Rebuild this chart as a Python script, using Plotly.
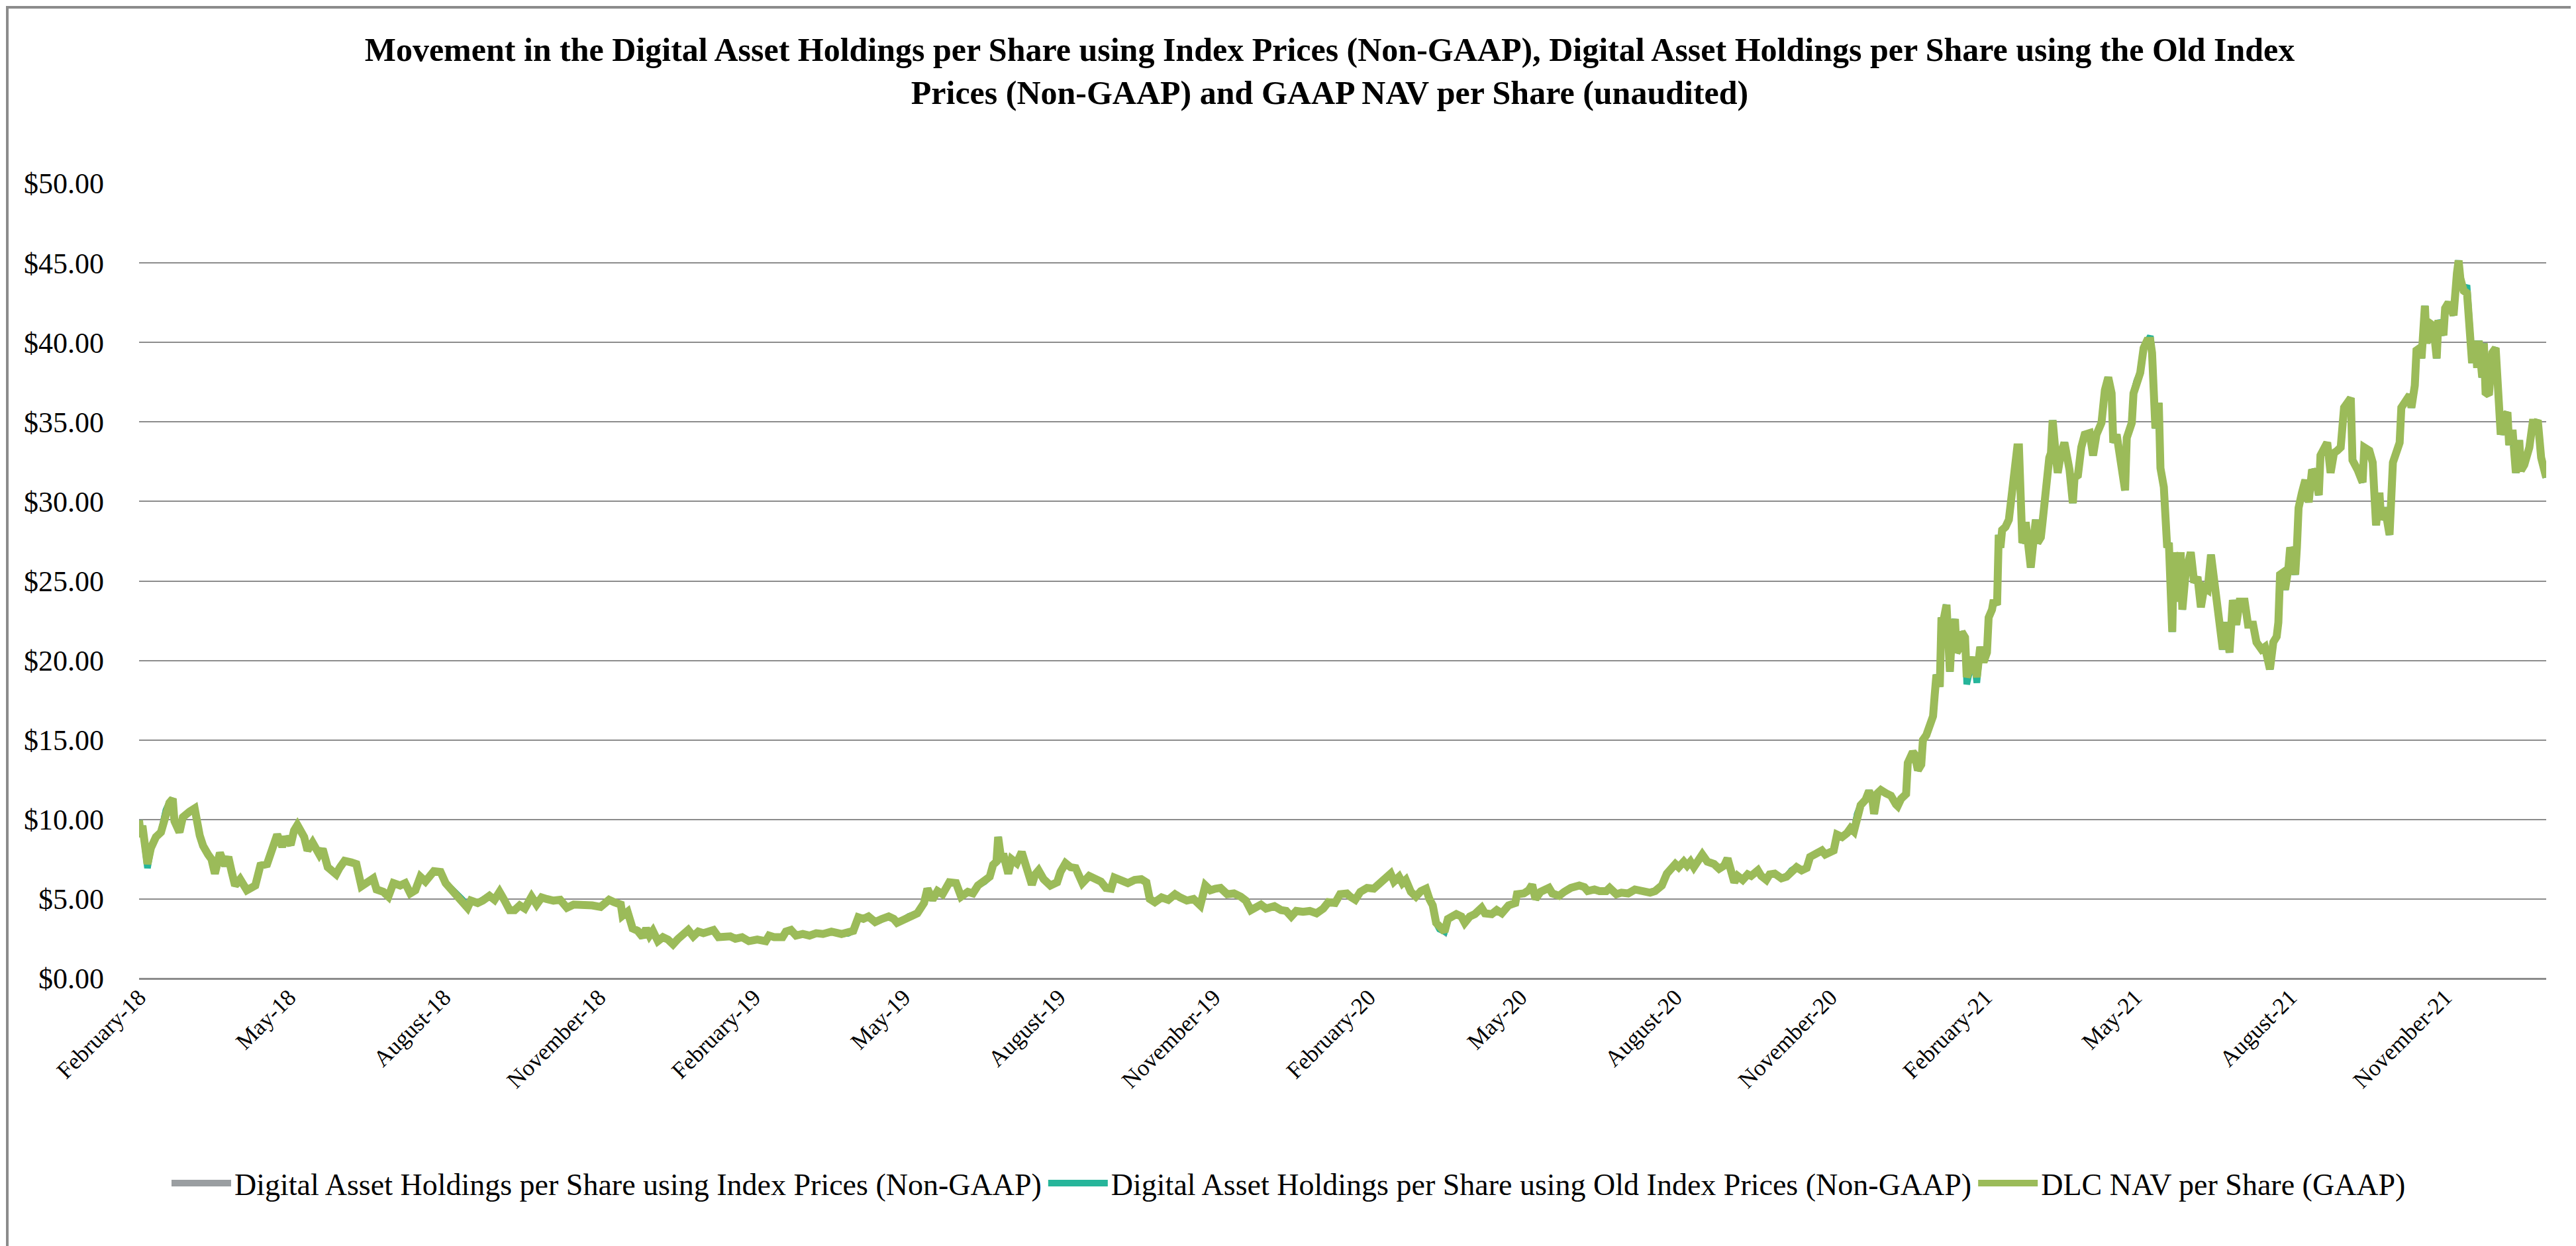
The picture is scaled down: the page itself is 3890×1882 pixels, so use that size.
import plotly.graph_objects as go

# ---------------- data ----------------
dates_2018 = [
    "2018-02-01", "2018-02-02", "2018-02-03", "2018-02-06", "2018-02-08", "2018-02-11", "2018-02-14",
    "2018-02-17", "2018-02-19", "2018-02-21", "2018-02-22", "2018-02-25", "2018-02-27", "2018-03-03",
    "2018-03-06", "2018-03-09", "2018-03-11", "2018-03-14", "2018-03-16", "2018-03-18", "2018-03-21",
    "2018-03-24", "2018-03-26", "2018-03-28", "2018-03-30", "2018-04-02", "2018-04-06", "2018-04-11",
    "2018-04-14", "2018-04-18", "2018-04-21", "2018-04-24", "2018-04-27", "2018-04-29", "2018-05-02",
    "2018-05-04", "2018-05-06", "2018-05-10", "2018-05-12", "2018-05-15", "2018-05-19", "2018-05-21",
    "2018-05-24", "2018-05-27", "2018-05-29", "2018-05-31", "2018-06-03", "2018-06-07", "2018-06-10",
    "2018-06-13", "2018-06-17", "2018-06-20", "2018-06-22", "2018-06-26", "2018-06-29", "2018-07-02",
    "2018-07-06", "2018-07-09", "2018-07-12", "2018-07-15", "2018-07-18", "2018-07-21", "2018-07-26",
    "2018-07-30", "2018-08-02", "2018-08-06", "2018-08-09", "2018-08-12", "2018-08-15", "2018-08-17",
    "2018-08-21", "2018-08-24", "2018-08-28", "2018-08-31", "2018-09-03", "2018-09-06", "2018-09-09",
    "2018-09-12", "2018-09-15", "2018-09-18", "2018-09-22", "2018-09-25", "2018-09-28", "2018-10-01",
    "2018-10-05", "2018-10-09", "2018-10-13", "2018-10-17", "2018-10-22", "2018-10-28", "2018-11-02",
    "2018-11-07", "2018-11-10", "2018-11-14", "2018-11-15", "2018-11-18", "2018-11-21", "2018-11-24",
    "2018-11-27", "2018-11-29", "2018-12-01", "2018-12-03", "2018-12-06", "2018-12-09", "2018-12-12",
    "2018-12-15", "2018-12-18", "2018-12-21", "2018-12-24", "2018-12-27", "2018-12-30",
]
nav_2018 = [
    9.95, 8.9, 9.6, 7.2, 8.2, 8.9, 9.2,
    10.6, 11.05, 11.3, 9.9, 9.2, 10.15, 10.5,
    10.7, 9.0, 8.35, 7.8, 7.5, 6.6, 7.9,
    7.1, 7.65, 6.7, 5.85, 6.25, 5.55, 5.85,
    7.1, 7.2, 8.2, 9.05, 8.3, 8.9, 8.4,
    9.3, 9.65, 8.9, 8.05, 8.55, 7.8, 8.15,
    7.0, 6.8, 6.55, 6.95, 7.4, 7.3, 7.2,
    5.8, 6.1, 6.3, 5.6, 5.45, 5.15, 6.0,
    5.85, 6.0, 5.35, 5.55, 6.4, 6.1, 6.75,
    6.7, 6.0, 5.55, 5.15, 4.95, 4.45, 4.9,
    4.75, 4.9, 5.2, 4.95, 5.45, 4.9, 4.3,
    4.3, 4.6, 4.4, 5.15, 4.65, 5.1, 5.0,
    4.9, 4.95, 4.45, 4.65, 4.65, 4.6, 4.5,
    4.95, 4.8, 4.65, 3.95, 4.2, 3.15, 3.0,
    2.6, 3.15, 2.7, 3.0, 2.35, 2.6, 2.45,
    2.15, 2.5, 2.85, 3.05, 2.65, 2.95,
]

dates_2019 = [
    "2019-01-02", "2019-01-05", "2019-01-08", "2019-01-11", "2019-01-14", "2019-01-18", "2019-01-21",
    "2019-01-25", "2019-01-29", "2019-02-03", "2019-02-08", "2019-02-10", "2019-02-13", "2019-02-18",
    "2019-02-20", "2019-02-23", "2019-02-26", "2019-03-02", "2019-03-06", "2019-03-10", "2019-03-14",
    "2019-03-19", "2019-03-25", "2019-03-29", "2019-04-01", "2019-04-04", "2019-04-07", "2019-04-10",
    "2019-04-14", "2019-04-18", "2019-04-22", "2019-04-25", "2019-04-27", "2019-05-01", "2019-05-04",
    "2019-05-09", "2019-05-13", "2019-05-15", "2019-05-18", "2019-05-21", "2019-05-24", "2019-05-28",
    "2019-06-01", "2019-06-04", "2019-06-08", "2019-06-11", "2019-06-14", "2019-06-18", "2019-06-21",
    "2019-06-23", "2019-06-25", "2019-06-26", "2019-06-28", "2019-06-29", "2019-07-02", "2019-07-04",
    "2019-07-07", "2019-07-10", "2019-07-12", "2019-07-14", "2019-07-16", "2019-07-18", "2019-07-20",
    "2019-07-23", "2019-07-27", "2019-07-31", "2019-08-02", "2019-08-05", "2019-08-08", "2019-08-11",
    "2019-08-15", "2019-08-19", "2019-08-23", "2019-08-26", "2019-08-29", "2019-09-01", "2019-09-03",
    "2019-09-07", "2019-09-11", "2019-09-15", "2019-09-19", "2019-09-22", "2019-09-24", "2019-09-27",
    "2019-10-01", "2019-10-05", "2019-10-09", "2019-10-12", "2019-10-16", "2019-10-20", "2019-10-24",
    "2019-10-27", "2019-10-30", "2019-11-02", "2019-11-05", "2019-11-09", "2019-11-13", "2019-11-17",
    "2019-11-20", "2019-11-23", "2019-11-26", "2019-11-29", "2019-12-02", "2019-12-07", "2019-12-11",
    "2019-12-14", "2019-12-17", "2019-12-20", "2019-12-24", "2019-12-28",
]
nav_2019 = [
    2.85, 3.0, 3.05, 2.6, 2.6, 2.65, 2.5,
    2.6, 2.35, 2.45, 2.35, 2.7, 2.6, 2.6,
    2.95, 3.05, 2.7, 2.8, 2.7, 2.85, 2.8,
    2.95, 2.8, 2.85, 3.0, 3.85, 3.75, 3.9,
    3.55, 3.75, 3.9, 3.75, 3.5, 3.7, 3.9,
    4.1, 4.75, 5.65, 4.95, 5.5, 5.3, 6.05,
    6.0, 5.15, 5.45, 5.35, 5.85, 6.1, 6.4,
    7.15, 7.35, 8.9, 7.35, 7.85, 6.6, 7.5,
    7.25, 7.95, 7.25, 6.7, 5.9, 6.55, 6.8,
    6.25, 5.85, 6.05, 6.7, 7.25, 7.0, 6.95,
    6.0, 6.45, 6.2, 6.1, 5.7, 5.65, 6.35,
    6.2, 6.0, 6.2, 6.25, 6.05, 5.0, 4.8,
    5.1, 4.95, 5.3, 5.1, 4.9, 5.0, 4.6,
    5.85, 5.55, 5.65, 5.7, 5.3, 5.35, 5.15,
    4.9, 4.3, 4.45, 4.65, 4.4, 4.55, 4.3,
    4.25, 3.9, 4.25, 4.2, 4.25,
]

dates_2020 = [
    "2020-01-01", "2020-01-05", "2020-01-08", "2020-01-12", "2020-01-15", "2020-01-19", "2020-01-21",
    "2020-01-24", "2020-01-27", "2020-01-31", "2020-02-04", "2020-02-08", "2020-02-11", "2020-02-14",
    "2020-02-16", "2020-02-19", "2020-02-21", "2020-02-23", "2020-02-26", "2020-02-29", "2020-03-03",
    "2020-03-06", "2020-03-08", "2020-03-10", "2020-03-12", "2020-03-14", "2020-03-17", "2020-03-19",
    "2020-03-21", "2020-03-24", "2020-03-27", "2020-03-29", "2020-04-01", "2020-04-04", "2020-04-08",
    "2020-04-10", "2020-04-14", "2020-04-17", "2020-04-20", "2020-04-24", "2020-04-28", "2020-04-29",
    "2020-05-03", "2020-05-06", "2020-05-08", "2020-05-10", "2020-05-13", "2020-05-18", "2020-05-20",
    "2020-05-24", "2020-05-27", "2020-05-31", "2020-06-05", "2020-06-08", "2020-06-10", "2020-06-14",
    "2020-06-17", "2020-06-21", "2020-06-23", "2020-06-27", "2020-06-30", "2020-07-04", "2020-07-08",
    "2020-07-12", "2020-07-17", "2020-07-20", "2020-07-24", "2020-07-27", "2020-07-29", "2020-08-01",
    "2020-08-03", "2020-08-06", "2020-08-08", "2020-08-10", "2020-08-12", "2020-08-15", "2020-08-17",
    "2020-08-20", "2020-08-24", "2020-08-27", "2020-08-30", "2020-09-01", "2020-09-03", "2020-09-05",
    "2020-09-07", "2020-09-10", "2020-09-13", "2020-09-15", "2020-09-19", "2020-09-21", "2020-09-24",
    "2020-09-26", "2020-09-29", "2020-10-03", "2020-10-06", "2020-10-09", "2020-10-12", "2020-10-15",
    "2020-10-18", "2020-10-20", "2020-10-24", "2020-10-27", "2020-10-29", "2020-11-01", "2020-11-03",
    "2020-11-05", "2020-11-08", "2020-11-11", "2020-11-13", "2020-11-15", "2020-11-17", "2020-11-19",
    "2020-11-22", "2020-11-24", "2020-11-26", "2020-11-27", "2020-11-29", "2020-12-01", "2020-12-04",
    "2020-12-07", "2020-12-10", "2020-12-11", "2020-12-13", "2020-12-16", "2020-12-17", "2020-12-18",
    "2020-12-20", "2020-12-21", "2020-12-23", "2020-12-25", "2020-12-26", "2020-12-28", "2020-12-30",
]
nav_2020 = [
    4.1, 4.4, 4.8, 4.75, 5.3, 5.35, 5.15,
    4.95, 5.45, 5.7, 5.65, 6.05, 6.4, 6.6,
    6.1, 6.4, 6.0, 6.2, 5.45, 5.15, 5.5,
    5.65, 5.0, 4.6, 3.5, 3.2, 2.95, 3.75,
    3.85, 4.05, 3.9, 3.5, 3.9, 4.05, 4.45,
    4.1, 4.05, 4.3, 4.1, 4.6, 4.75, 5.3,
    5.35, 5.55, 5.9, 5.0, 5.45, 5.7, 5.35,
    5.2, 5.45, 5.7, 5.85, 5.75, 5.5, 5.6,
    5.5, 5.5, 5.7, 5.3, 5.4, 5.35, 5.6,
    5.55, 5.4, 5.5, 5.85, 6.6, 6.8, 7.2,
    7.0, 7.35, 7.1, 7.35, 7.0, 7.5, 7.8,
    7.35, 7.2, 6.9, 7.1, 7.55, 6.65, 6.05,
    6.45, 6.2, 6.55, 6.45, 6.8, 6.45, 6.2,
    6.55, 6.6, 6.3, 6.4, 6.8, 7.0, 6.8,
    6.95, 7.65, 7.9, 8.05, 7.8, 8.0, 8.05,
    9.05, 8.9, 9.15, 9.45, 9.25, 10.35, 10.9,
    11.25, 11.8, 11.25, 10.35, 11.65, 11.85, 11.65,
    11.5, 10.95, 10.85, 11.3, 11.6, 13.55, 13.75,
    14.25, 14.1, 13.1, 13.45, 15.0, 15.3, 16.1,
]

dates_2021 = [
    "2021-01-01", "2021-01-02", "2021-01-03", "2021-01-05", "2021-01-06", "2021-01-07", "2021-01-09",
    "2021-01-11", "2021-01-12", "2021-01-14", "2021-01-15", "2021-01-17", "2021-01-18", "2021-01-20",
    "2021-01-21", "2021-01-23", "2021-01-25", "2021-01-27", "2021-01-29", "2021-01-31", "2021-02-02",
    "2021-02-03", "2021-02-05", "2021-02-06", "2021-02-08", "2021-02-09", "2021-02-10", "2021-02-11",
    "2021-02-13", "2021-02-15", "2021-02-17", "2021-02-18", "2021-02-20", "2021-02-21", "2021-02-23",
    "2021-02-24", "2021-02-25", "2021-02-27", "2021-02-28", "2021-03-02", "2021-03-03", "2021-03-04",
    "2021-03-06", "2021-03-07", "2021-03-09", "2021-03-11", "2021-03-12", "2021-03-13", "2021-03-15",
    "2021-03-16", "2021-03-18", "2021-03-20", "2021-03-23", "2021-03-25", "2021-03-26", "2021-03-28",
    "2021-03-30", "2021-04-01", "2021-04-04", "2021-04-06", "2021-04-08", "2021-04-11", "2021-04-13",
    "2021-04-15", "2021-04-17", "2021-04-18", "2021-04-20", "2021-04-23", "2021-04-25", "2021-04-26",
    "2021-04-29", "2021-04-30", "2021-05-02", "2021-05-04", "2021-05-06", "2021-05-08", "2021-05-10",
    "2021-05-11", "2021-05-13", "2021-05-15", "2021-05-16", "2021-05-18", "2021-05-20", "2021-05-21",
    "2021-05-23", "2021-05-24", "2021-05-26", "2021-05-28", "2021-05-29", "2021-05-31", "2021-06-03",
    "2021-06-05", "2021-06-07", "2021-06-09", "2021-06-11", "2021-06-13", "2021-06-15", "2021-06-17",
    "2021-06-19", "2021-06-22", "2021-06-24", "2021-06-26", "2021-06-28", "2021-06-30", "2021-07-02",
    "2021-07-05", "2021-07-07", "2021-07-10", "2021-07-12", "2021-07-15", "2021-07-17", "2021-07-19",
    "2021-07-20", "2021-07-22", "2021-07-24", "2021-07-25", "2021-07-26", "2021-07-28", "2021-07-29",
    "2021-07-31", "2021-08-01", "2021-08-02", "2021-08-04", "2021-08-05", "2021-08-06", "2021-08-08",
    "2021-08-10", "2021-08-12", "2021-08-14", "2021-08-16", "2021-08-18", "2021-08-19", "2021-08-21",
    "2021-08-23", "2021-08-25", "2021-08-27", "2021-08-29", "2021-08-31", "2021-09-02", "2021-09-04",
    "2021-09-06", "2021-09-07", "2021-09-08", "2021-09-10", "2021-09-13", "2021-09-14", "2021-09-17",
    "2021-09-19", "2021-09-21", "2021-09-23", "2021-09-24", "2021-09-26", "2021-09-27", "2021-09-29",
    "2021-10-01", "2021-10-03", "2021-10-05", "2021-10-06", "2021-10-08", "2021-10-11", "2021-10-12",
    "2021-10-14", "2021-10-15", "2021-10-17", "2021-10-18", "2021-10-20", "2021-10-21", "2021-10-23",
    "2021-10-25", "2021-10-27", "2021-10-28", "2021-10-30", "2021-10-31", "2021-11-01", "2021-11-03",
    "2021-11-05", "2021-11-06", "2021-11-08", "2021-11-09", "2021-11-10", "2021-11-12", "2021-11-14",
    "2021-11-16", "2021-11-17", "2021-11-19", "2021-11-20", "2021-11-21", "2021-11-23", "2021-11-24",
    "2021-11-25", "2021-11-27", "2021-11-28", "2021-11-29", "2021-12-01", "2021-12-03", "2021-12-04",
    "2021-12-06", "2021-12-08", "2021-12-09", "2021-12-11", "2021-12-13", "2021-12-15", "2021-12-16",
    "2021-12-18", "2021-12-21", "2021-12-23", "2021-12-25", "2021-12-26", "2021-12-28", "2021-12-30",
    "2021-12-31",
]
nav_2021 = [
    16.5, 17.85, 19.1, 18.35, 22.7, 22.4, 23.5,
    19.3, 21.3, 22.6, 20.5, 20.85, 21.8, 21.45,
    18.95, 19.45, 20.2, 18.95, 20.85, 19.9, 20.5,
    22.7, 23.2, 23.8, 23.5, 27.9, 27.1, 28.2,
    28.4, 28.85, 30.7, 32.3, 33.4, 33.4, 27.4,
    27.6, 28.7, 26.8, 25.85, 27.9, 28.85, 27.4,
    27.75, 28.7, 31.2, 32.75, 33.05, 35.1, 32.75,
    31.8, 33.05, 33.7, 32.0, 29.9, 31.5, 31.65,
    33.4, 34.2, 34.3, 32.9, 34.2, 34.95, 37.0,
    37.8, 36.8, 33.7, 34.2, 32.45, 30.7, 34.0,
    34.95, 36.8, 37.6, 38.1, 39.65, 40.1, 40.1,
    39.35, 34.6, 36.2, 32.1, 30.9, 27.1, 27.4,
    21.8, 26.8, 23.7, 26.8, 23.2, 25.55, 26.8,
    24.9, 25.25, 23.35, 24.6, 24.45, 26.65, 24.9,
    23.35, 20.7, 22.4, 20.5, 23.8, 22.25, 23.7,
    23.7, 22.25, 22.25, 21.15, 20.7, 20.85, 19.9,
    19.45, 21.15, 21.5, 22.4, 25.4, 25.55, 24.45,
    25.85, 27.1, 26.8, 25.4, 27.1, 29.6, 30.55,
    31.35, 29.95, 32.0, 31.65, 30.4, 32.9, 33.2,
    33.7, 31.8, 33.05, 33.2, 33.4, 35.9, 36.2,
    36.5, 32.6, 32.45, 32.0, 31.2, 33.4, 33.2,
    32.45, 28.5, 30.55, 28.85, 29.6, 29.15, 27.9,
    32.45, 33.2, 33.7, 35.9, 36.2, 36.7, 35.9,
    37.3, 39.5, 39.65, 39.0, 42.3, 39.95, 41.2,
    41.05, 39.0, 41.4, 40.9, 40.45, 42.15, 42.5,
    42.0, 41.7, 44.35, 45.15, 44.05, 43.25, 43.1,
    39.95, 38.7, 40.1, 38.4, 40.1, 37.8, 39.95,
    36.85, 36.7, 38.1, 39.35, 39.65, 36.2, 34.2,
    35.25, 35.6, 33.55, 34.5, 31.8, 33.85, 31.95,
    32.3, 33.4, 34.95, 34.95, 35.1, 32.75, 32.1,
    31.5,
]

# Points where the Old Index line visibly separates from the NAV line
old_index_dates = ["2018-02-06", "2020-03-14", "2021-01-21", "2021-01-27", "2021-05-10", "2021-11-14"]
old_index_values = [6.95, 3.1, 18.5, 18.6, 40.4, 43.6]

tick_dates = [
    "2018-02-01", "2018-05-01", "2018-08-01", "2018-11-01",
    "2019-02-01", "2019-05-01", "2019-08-01", "2019-11-01",
    "2020-02-01", "2020-05-01", "2020-08-01", "2020-11-01",
    "2021-02-01", "2021-05-01", "2021-08-01", "2021-11-01",
]
tick_labels = [
    "February-18", "May-18", "August-18", "November-18",
    "February-19", "May-19", "August-19", "November-19",
    "February-20", "May-20", "August-20", "November-20",
    "February-21", "May-21", "August-21", "November-21",
]

series_names = [
    "Digital Asset Holdings per Share using Index Prices (Non-GAAP)",
    "Digital Asset Holdings per Share using Old Index Prices (Non-GAAP)",
    "DLC NAV per Share (GAAP)",
]

# ---------------- assemble ----------------
for d, v in [(dates_2018, nav_2018), (dates_2019, nav_2019), (dates_2020, nav_2020), (dates_2021, nav_2021)]:
    assert len(d) == len(v), (len(d), len(v))

dates = dates_2018 + dates_2019 + dates_2020 + dates_2021
nav_per_share = nav_2018 + nav_2019 + nav_2020 + nav_2021
index_per_share = list(nav_per_share)      # drawn underneath, coincides with NAV
old_index_per_share = list(nav_per_share)
for d, v in zip(old_index_dates, old_index_values):
    old_index_per_share[dates.index(d)] = v

FONT = "Liberation Serif, Times New Roman, serif"

fig = go.Figure()
fig.add_trace(go.Scatter(x=dates, y=index_per_share, mode="lines", name=series_names[0],
                         line=dict(color="#9A9EA1", width=10)))
fig.add_trace(go.Scatter(x=dates, y=old_index_per_share, mode="lines", name=series_names[1],
                         line=dict(color="#26B59A", width=10)))
fig.add_trace(go.Scatter(x=dates, y=nav_per_share, mode="lines", name=series_names[2],
                         line=dict(color="#9BBB59", width=12)))

W, H = 3890, 1882
L, R, T, B = 202, 53, 269, 412
pw, ph = W - L - R, H - T - B

fig.update_layout(
    width=W, height=H,
    margin=dict(l=L, r=R, t=T, b=B, autoexpand=False),
    paper_bgcolor="white", plot_bgcolor="white",
    font=dict(family=FONT, color="black"),
    title=dict(
        text="<b>Movement in the Digital Asset Holdings per Share using Index Prices (Non-GAAP), "
             "Digital Asset Holdings per Share using the Old Index<br>"
             "Prices (Non-GAAP) and GAAP NAV per Share (unaudited)</b>",
        font=dict(family=FONT, size=50, color="black"),
        x=2000 / W, xref="container", xanchor="center",
        y=1 - 84 / H, yref="container", yanchor="top",
    ),
    showlegend=True,
    legend=dict(
        orientation="h", x=(1938 - L) / pw, xanchor="center",
        y=(T + ph - 1779) / ph, yanchor="middle",
        font=dict(family=FONT, size=46, color="black"),
        itemwidth=90, bgcolor="rgba(0,0,0,0)",
    ),
    xaxis=dict(
        type="date", range=["2018-02-01", "2021-12-31"],
        tickmode="array", tickvals=tick_dates, ticktext=tick_labels,
        tickangle=-45, tickfont=dict(family=FONT, size=35, color="black"),
        showgrid=False, zeroline=False, showline=False, ticks="",
    ),
    yaxis=dict(
        range=[0, 50], dtick=5, tick0=0, tickprefix="$", tickformat=".2f",
        tickfont=dict(family=FONT, size=44, color="black"),
        showgrid=True, gridcolor="#8C8C8C", gridwidth=2,
        zeroline=True, zerolinecolor="#8C8C8C", zerolinewidth=3,
        showline=False, ticks="", ticklabelstandoff=52,
    ),
    shapes=[dict(
        type="rect", xref="paper", yref="paper",
        x0=(3 - L) / pw, x1=(3887 - L) / pw,
        y0=(T + ph - 1879) / ph, y1=(T + ph - 3) / ph,
        line=dict(color="#8C8C8C", width=4), fillcolor="rgba(0,0,0,0)", layer="below",
    )],
)

fig.write_html("out.html")
